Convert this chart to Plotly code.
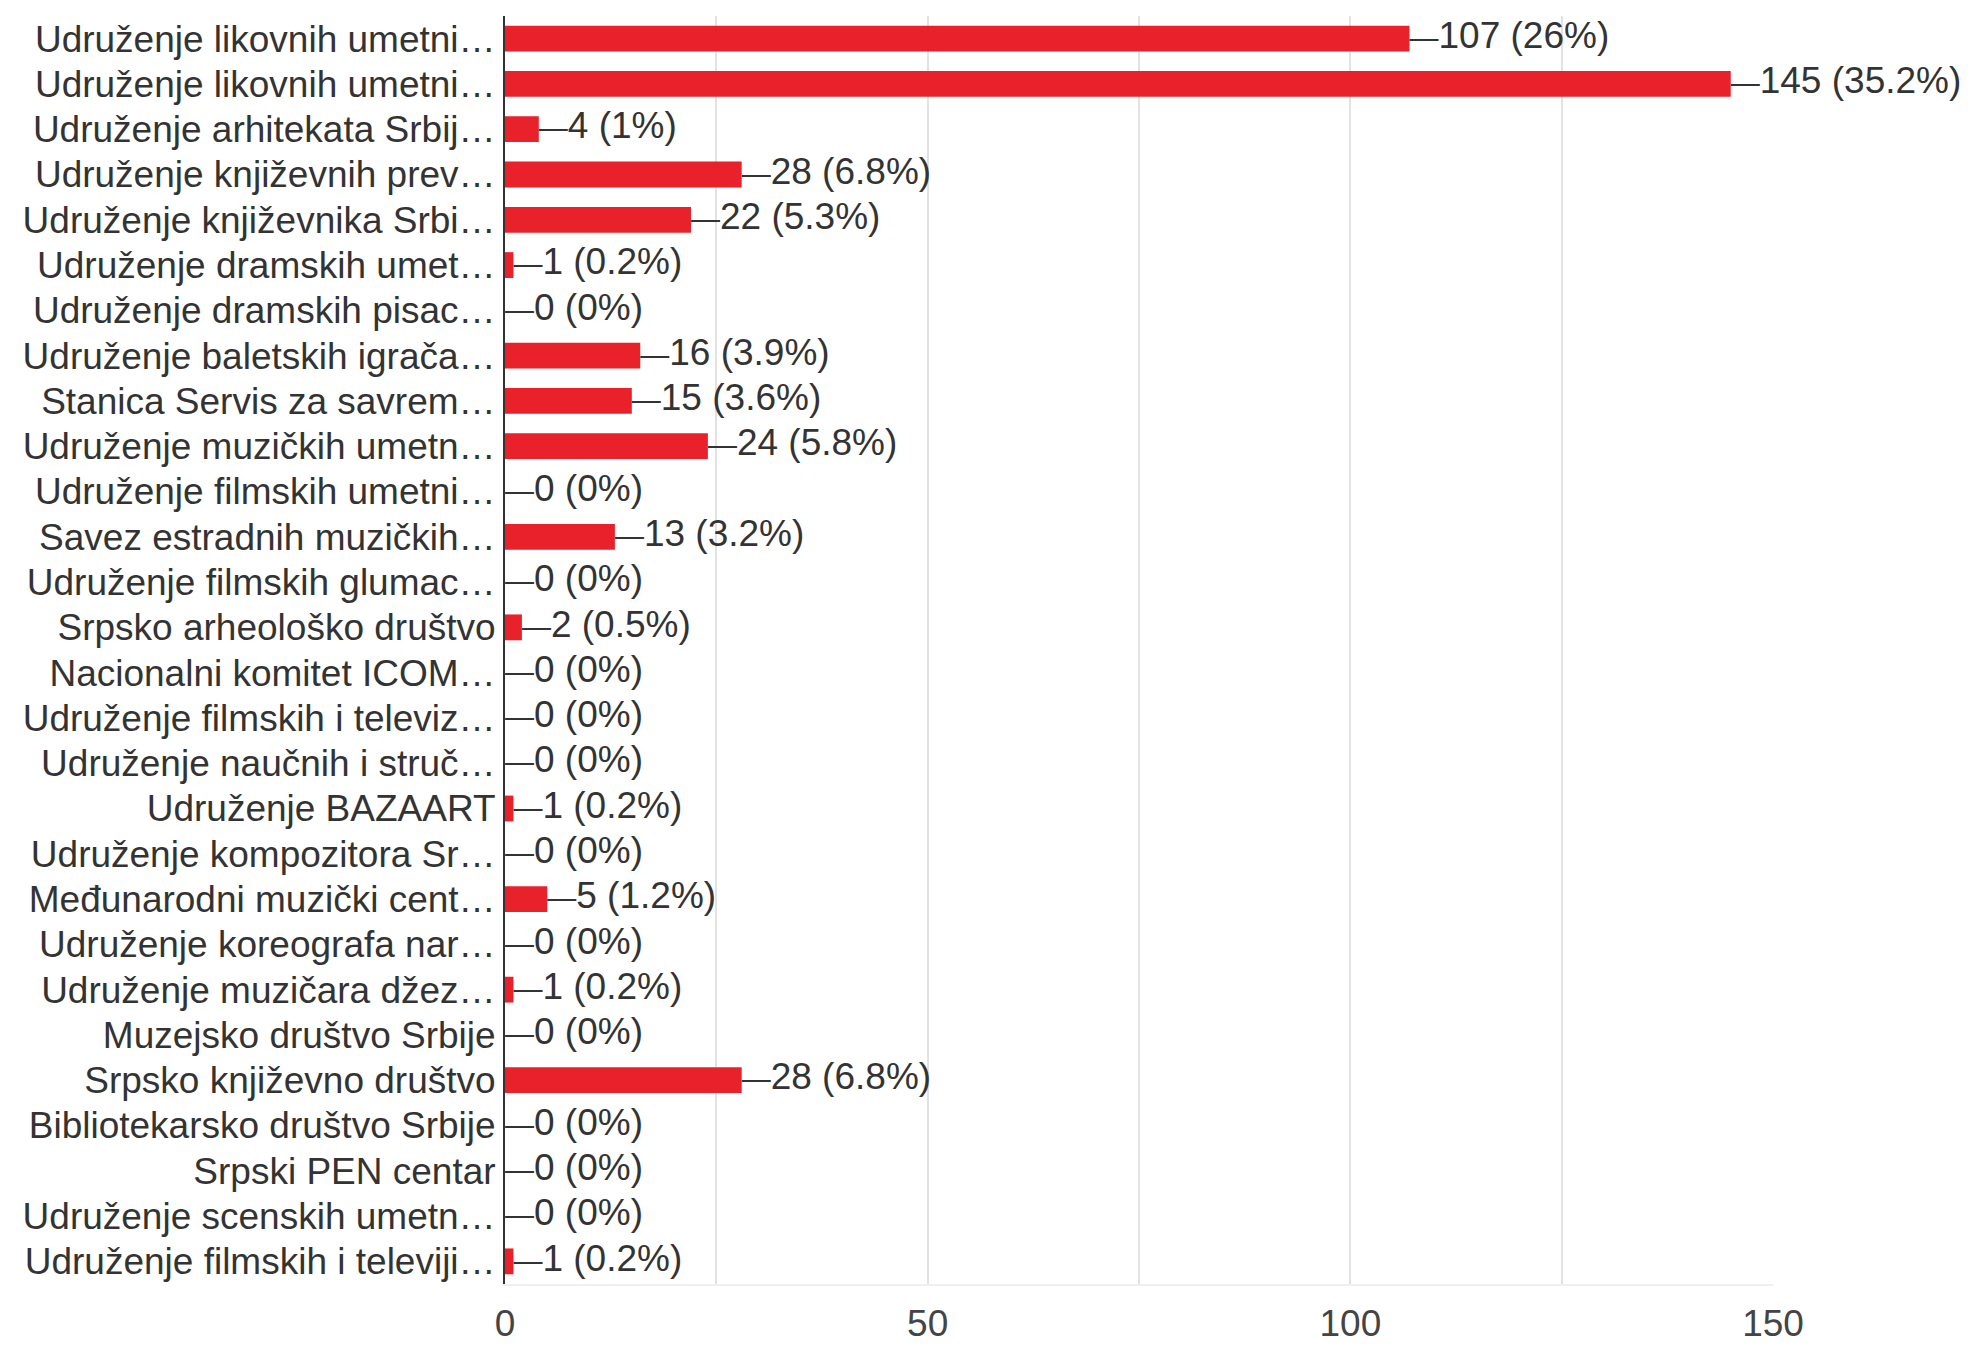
import plotly.graph_objects as go

categories = [
    "Udruženje likovnih umetni…",
    "Udruženje likovnih umetni…",
    "Udruženje arhitekata Srbij…",
    "Udruženje književnih prev…",
    "Udruženje književnika Srbi…",
    "Udruženje dramskih umet…",
    "Udruženje dramskih pisac…",
    "Udruženje baletskih igrača…",
    "Stanica Servis za savrem…",
    "Udruženje muzičkih umetn…",
    "Udruženje filmskih umetni…",
    "Savez estradnih muzičkih…",
    "Udruženje filmskih glumac…",
    "Srpsko arheološko društvo",
    "Nacionalni komitet ICOM…",
    "Udruženje filmskih i televiz…",
    "Udruženje naučnih i struč…",
    "Udruženje BAZAART",
    "Udruženje kompozitora Sr…",
    "Međunarodni muzički cent…",
    "Udruženje koreografa nar…",
    "Udruženje muzičara džez…",
    "Muzejsko društvo Srbije",
    "Srpsko književno društvo",
    "Bibliotekarsko društvo Srbije",
    "Srpski PEN centar",
    "Udruženje scenskih umetn…",
    "Udruženje filmskih i televiji…",
]

counts = [107, 145, 4, 28, 22, 1, 0, 16, 15, 24, 0, 13, 0, 2, 0, 0, 0, 1, 0, 5, 0, 1, 0, 28, 0, 0, 0, 1]

percents = ["26%", "35.2%", "1%", "6.8%", "5.3%", "0.2%", "0%", "3.9%", "3.6%", "5.8%",
            "0%", "3.2%", "0%", "0.5%", "0%", "0%", "0%", "0.2%", "0%", "1.2%",
            "0%", "0.2%", "0%", "6.8%", "0%", "0%", "0%", "0.2%"]

x_ticks = [0, 50, 100, 150]

FONT = "Arial, Liberation Sans, sans-serif"
TEXT_COLOR = "#333333"
BAR_COLOR = "#e8212b"
FS = 37

positions = list(range(len(categories)))
value_labels = ["<span style='font-size:29px'>—</span>{} ({})".format(c, p)
                for c, p in zip(counts, percents)]

fig = go.Figure()
fig.add_trace(go.Bar(
    x=counts,
    y=positions,
    orientation="h",
    marker=dict(color=BAR_COLOR, line=dict(width=0)),
    hoverinfo="skip",
))
fig.add_trace(go.Scatter(
    x=counts,
    y=positions,
    mode="text",
    text=value_labels,
    textposition="middle right",
    textfont=dict(family=FONT, size=FS, color=TEXT_COLOR),
    cliponaxis=False,
    hoverinfo="skip",
))

fig.update_layout(
    width=1968,
    height=1345,
    margin=dict(l=505, r=195, t=16, b=61, autoexpand=False),
    paper_bgcolor="white",
    plot_bgcolor="white",
    showlegend=False,
    bargap=0.43,
    font=dict(family=FONT, size=FS, color=TEXT_COLOR),
)

fig.update_xaxes(
    range=[0, 150],
    tickvals=x_ticks,
    ticktext=[str(v) for v in x_ticks],
    showgrid=True,
    gridcolor="#e2e2e2",
    gridwidth=1.5,
    minor=dict(dtick=25, showgrid=True, gridcolor="#e2e2e2", gridwidth=1.5),
    zeroline=False,
    showline=True,
    linecolor="#f0f0f0",
    linewidth=2,
    ticks="",
    ticklabelstandoff=6,
    tickfont=dict(family=FONT, size=FS, color="#444444"),
    automargin=False,
    fixedrange=True,
)

fig.update_yaxes(
    tickvals=positions,
    ticktext=categories,
    range=[len(categories) - 0.5, -0.5],
    showgrid=False,
    zeroline=False,
    showline=True,
    linecolor="#333333",
    linewidth=2,
    ticks="",
    ticklabelstandoff=0,
    tickfont=dict(family=FONT, size=FS, color=TEXT_COLOR),
    automargin=False,
    fixedrange=True,
)

fig.write_html(
    "out.html",
    config={"displayModeBar": False},
    post_script="document.body.style.margin='0';document.body.style.overflow='hidden';",
)
